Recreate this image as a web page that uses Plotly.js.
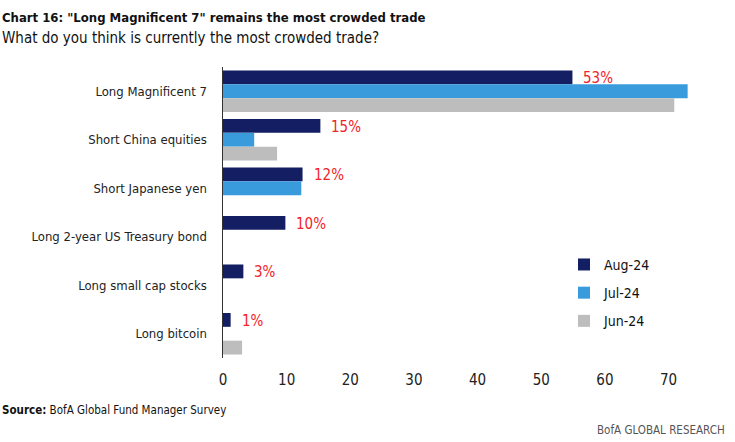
<!DOCTYPE html>
<html>
<head>
<meta charset="utf-8">
<script src="https://cdn.plot.ly/plotly-3.0.1.min.js"></script>
<style>
html,body{margin:0;padding:0;background:#fff;}
#chart{width:735px;height:442px;}
</style>
</head>
<body>
<div id="chart"></div>
<script>
const categories = ["Long Magnificent 7", "Short China equities", "Short Japanese yen", "Long 2-year US Treasury bond", "Long small cap stocks", "Long bitcoin"];
const aug24 = [54.9, 15.3, 12.5, 9.8, 3.2, 1.2];
const jul24 = [73.0, 4.9, 12.3, 0, 0, 0];
const jun24 = [70.9, 8.5, 0, 0, 0, 3.0];
const augLabels = ["53%", "15%", "12%", "10%", "3%", "1%"];
const xTicks = [0, 10, 20, 30, 40, 50, 60, 70];

const FONT = "'DejaVu Sans Condensed', 'Liberation Sans Narrow', sans-serif";

const traces = [
  {name: "Aug-24", y: categories, x: aug24, color: "#141F63", g: "a"},
  {name: "Jul-24", y: categories, x: jul24, color: "#3A9BDC", g: "b"},
  {name: "Jun-24", y: categories, x: jun24, color: "#BDBDBD", g: "c"}
].map(t => ({
  type: "bar", orientation: "h", name: t.name, x: t.x, y: t.y,
  marker: {color: t.color}, legendgroup: t.g, hoverinfo: "none"
}));

const annotations = categories.map((c, i) => ({
  x: aug24[i], y: c, xref: "x", yref: "y", text: augLabels[i],
  showarrow: false, xanchor: "left", yanchor: "middle", xshift: 9, yshift: 13,
  font: {family: FONT, size: 15, color: "#F2222A"}
}));

annotations.push(
  {xref: "paper", yref: "paper", x: -0.4725, y: 1.17, xanchor: "left", yanchor: "middle",
   text: "<b>Chart 16: \"Long Magnificent 7\" remains the most crowded trade</b>", showarrow: false,
   font: {family: FONT, size: 13, color: "#111"}},
  {xref: "paper", yref: "paper", x: -0.4725, y: 1.098, xanchor: "left", yanchor: "middle",
   text: "What do you think is currently the most crowded trade?", showarrow: false,
   font: {family: FONT, size: 15, color: "#111"}},
  {xref: "paper", yref: "paper", x: -0.4725, y: -0.179, xanchor: "left", yanchor: "middle",
   text: "<b>Source:</b> BofA Global Fund Manager Survey", showarrow: false,
   font: {family: FONT, size: 11.5, color: "#111"}},
  {xref: "paper", yref: "paper", x: 1.07, y: -0.248, xanchor: "right", yanchor: "middle",
   text: "BofA GLOBAL RESEARCH", showarrow: false,
   font: {family: FONT, size: 11.5, color: "#555"}}
);

const layout = {
  width: 735, height: 442,
  margin: {l: 222.5, r: 40.5, t: 66.5, b: 83.5, pad: 0},
  paper_bgcolor: "#fff", plot_bgcolor: "#fff",
  font: {family: FONT, size: 13, color: "#222"},
  barmode: "group", bargap: 0.144, bargroupgap: 0,
  xaxis: {
    range: [0, 74], tickvals: xTicks, showgrid: false, zeroline: false, showline: false,
    ticks: "outside", ticklen: 8, tickcolor: "rgba(0,0,0,0)",
    tickfont: {family: FONT, size: 15, color: "#222"}
  },
  yaxis: {
    autorange: "reversed", showgrid: false, zeroline: false, showline: true,
    linecolor: "#333", linewidth: 1.5, ticks: "outside", ticklen: 12, tickcolor: "rgba(0,0,0,0)",
    tickfont: {family: FONT, size: 13, color: "#222"}
  },
  legend: {
    x: 0.724, y: 0.375, xanchor: "left", yanchor: "top",
    bgcolor: "rgba(0,0,0,0)", tracegroupgap: 7, traceorder: "grouped",
    font: {family: FONT, size: 14, color: "#111"}
  },
  showlegend: true,
  annotations: annotations
};

Plotly.newPlot("chart", traces, layout, {displayModeBar: false, staticPlot: true});
</script>
</body>
</html>
